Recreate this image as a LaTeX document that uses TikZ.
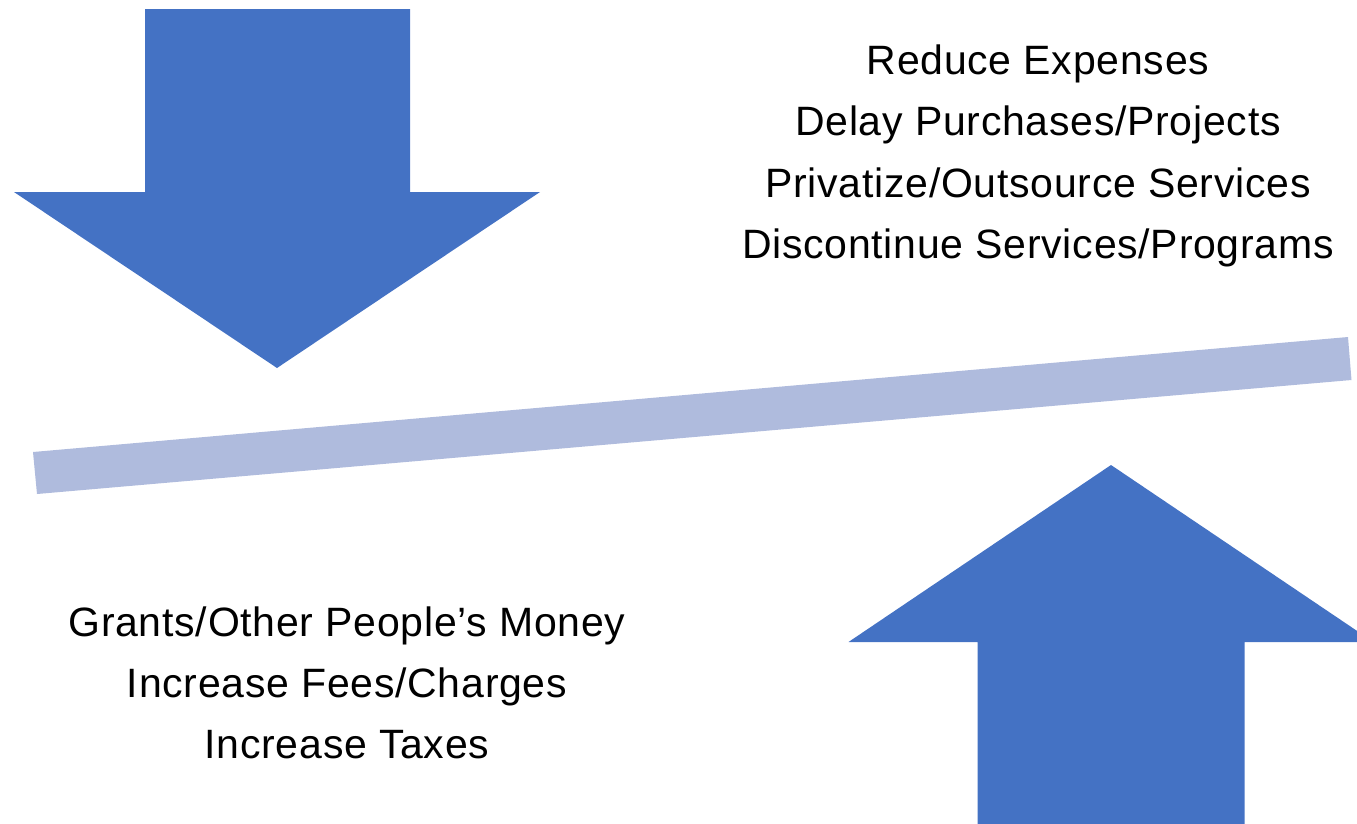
\documentclass[tikz,border=0pt]{standalone}
\usepackage{fontspec}
\setmainfont{Liberation Sans}
\newfontfamily\labelfont[LetterSpace=1.8]{Liberation Sans}
\definecolor{arrowblue}{HTML}{4472C4}
\definecolor{beamblue}{HTML}{AFBBDD}
\begin{document}
\begin{tikzpicture}[x=1pt,y=-1pt,
  arrowshape/.style={fill=arrowblue,draw=none},
  beamshape/.style={fill=beamblue,draw=none},
  label/.style={font=\labelfont\fontsize{41}{49}\selectfont,anchor=base,inner sep=0pt,text=black}]
  \useasboundingbox (0,0) rectangle (1357,823);
  \clip (0,0) rectangle (1357,823);

  % downward arrow (expenses side)
  \fill[arrowshape] (145,9) -- (410,9) -- (410,192) -- (540,192) -- (277,368)
    -- (14,192) -- (145,192) -- cycle;

  % tilted balance beam
  \fill[beamshape] (33,452) -- (37,494) -- (1351.5,380) -- (1348,337) -- cycle;

  % upward arrow (revenue side)
  \fill[arrowshape] (1111,465) -- (1373.5,642) -- (1244.5,642) -- (1244.5,830)
    -- (977.5,830) -- (977.5,642) -- (848.5,642) -- cycle;

  % expense measures
  \node[label] (r1) at (1038,74) {Reduce Expenses};
  \node[label] (r2) at (1038,135.5) {Delay Purchases/Projects};
  \node[label] (r3) at (1038,197) {Privatize/Outsource Services};
  \node[label] (r4) at (1038,258.5) {Discontinue Services/Programs};

  % revenue measures
  \node[label] (l1) at (347,636) {Grants/Other People’s Money};
  \node[label] (l2) at (347,697) {Increase Fees/Charges};
  \node[label] (l3) at (347,758) {Increase Taxes};
\end{tikzpicture}
\end{document}
